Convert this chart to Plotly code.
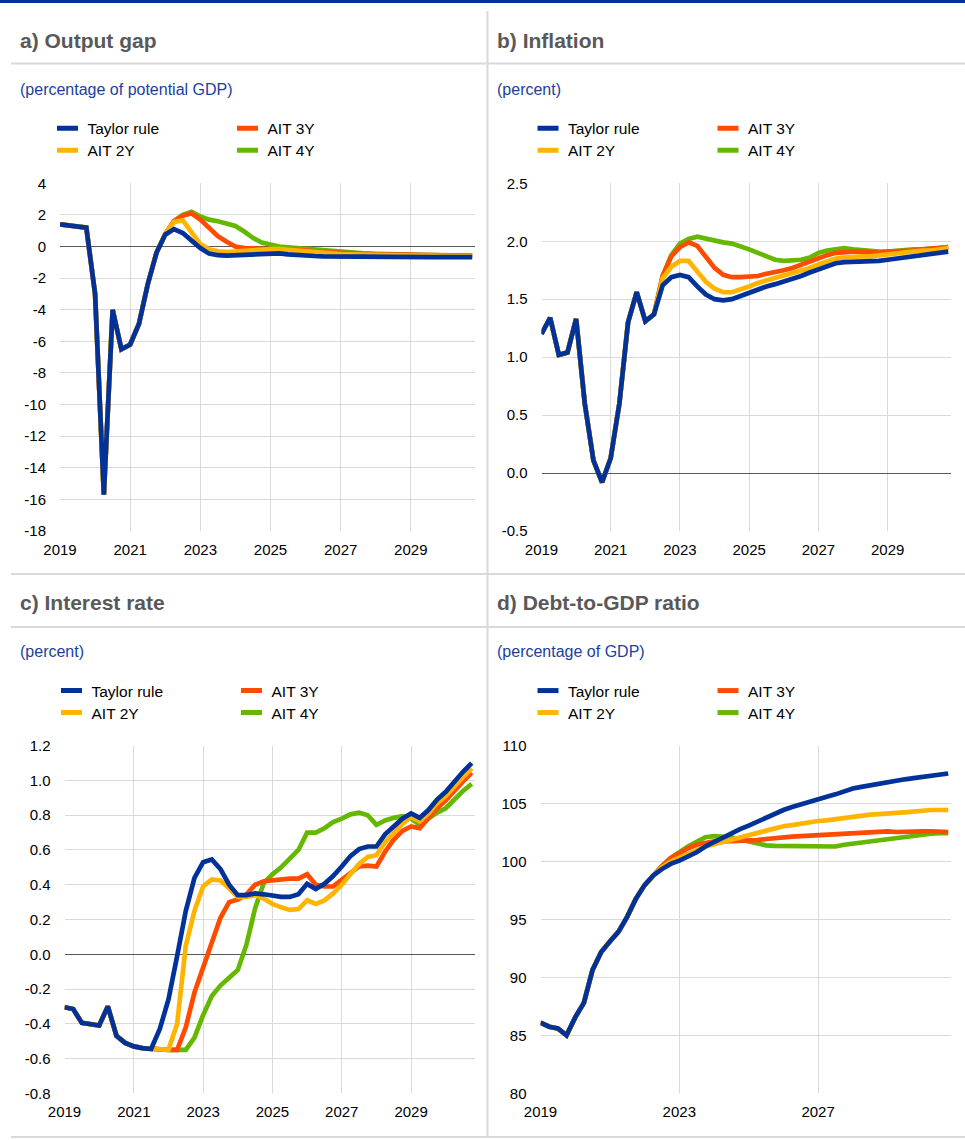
"""
Output gap, inflation, interest rate and debt under Taylor rule vs average inflation targeting
"""

import plotly.graph_objects as go

W, H = 965, 1140
FONT = "Liberation Sans, Arial, sans-serif"

# quarterly observations 2019Q1 - 2030Q4
quarters = [f"{2019 + q // 4}Q{q % 4 + 1}" for q in range(48)]

SERIES = ["Taylor rule", "AIT 2Y", "AIT 3Y", "AIT 4Y"]
COLORS = {
    "Taylor rule": "#003299",
    "AIT 2Y": "#ffb400",
    "AIT 3Y": "#ff4b00",
    "AIT 4Y": "#65b800",
}

# a) Output gap (percentage of potential GDP)
gap_common = [1.4, 1.35, 1.32, 1.2, -3.0, -15.7, -4.0, -6.5, -6.2, -4.9, -2.4, -0.4]
gap_taylor = gap_common + [0.75, 1.1, 0.85, 0.4, -0.1, -0.45, -0.55, -0.57, -0.55, -0.5, -0.47, -0.44,
                           -0.42, -0.44, -0.5, -0.55, -0.58, -0.6, -0.62, -0.63, -0.64, -0.65, -0.65, -0.66,
                           -0.66, -0.66, -0.67, -0.67, -0.67, -0.67, -0.67, -0.67, -0.67, -0.67, -0.67, -0.67]
gap_ait2y = gap_common + [0.8, 1.55, 1.65, 0.95, 0.15, -0.17, -0.3, -0.35, -0.3, -0.25, -0.2, -0.18,
                          -0.16, -0.17, -0.22, -0.28, -0.33, -0.38, -0.42, -0.45, -0.48, -0.5, -0.52, -0.53,
                          -0.54, -0.55, -0.56, -0.57, -0.58, -0.58, -0.59, -0.59, -0.6, -0.6, -0.6, -0.6]
gap_ait3y = gap_common + [0.8, 1.6, 1.95, 2.1, 1.7, 1.15, 0.65, 0.3, 0.0, -0.1, -0.12, -0.12,
                          -0.1, -0.12, -0.15, -0.2, -0.25, -0.3, -0.34, -0.38, -0.41, -0.44, -0.46, -0.48,
                          -0.5, -0.51, -0.52, -0.53, -0.54, -0.55, -0.56, -0.57, -0.57, -0.58, -0.58, -0.58]
gap_ait4y = gap_common + [0.8, 1.6, 2.0, 2.2, 1.9, 1.7, 1.6, 1.45, 1.3, 0.95, 0.55, 0.25,
                          0.1, 0.0, -0.05, -0.1, -0.15, -0.2, -0.25, -0.3, -0.34, -0.38, -0.41, -0.44,
                          -0.46, -0.48, -0.5, -0.51, -0.52, -0.53, -0.54, -0.55, -0.56, -0.57, -0.57, -0.58]

# b) Inflation (percent)
infl_common = [1.2, 1.34, 1.02, 1.04, 1.33, 0.6, 0.11, -0.08, 0.13, 0.6, 1.3, 1.56, 1.31, 1.37]
infl_taylor = infl_common + [1.62, 1.69, 1.71, 1.69, 1.61, 1.54, 1.5, 1.49, 1.5, 1.53, 1.56, 1.58,
                             1.61, 1.63, 1.65, 1.67, 1.7, 1.73, 1.76, 1.79, 1.81, 1.82, 1.82, 1.82,
                             1.82, 1.83, 1.84, 1.85, 1.86, 1.87, 1.88, 1.89, 1.9, 1.91]
infl_ait2y = infl_common + [1.68, 1.78, 1.83, 1.83, 1.74, 1.65, 1.59, 1.56, 1.56, 1.58, 1.61, 1.64,
                            1.66, 1.68, 1.7, 1.72, 1.74, 1.77, 1.8, 1.83, 1.85, 1.86, 1.87, 1.87,
                            1.87, 1.88, 1.88, 1.89, 1.9, 1.91, 1.92, 1.92, 1.93, 1.94]
infl_ait3y = infl_common + [1.7, 1.87, 1.95, 1.99, 1.96, 1.86, 1.77, 1.71, 1.69, 1.69, 1.69, 1.7,
                            1.72, 1.73, 1.75, 1.77, 1.8, 1.83, 1.86, 1.88, 1.9, 1.91, 1.91, 1.91,
                            1.9, 1.9, 1.91, 1.91, 1.92, 1.92, 1.93, 1.93, 1.94, 1.95]
infl_ait4y = infl_common + [1.7, 1.88, 1.98, 2.02, 2.04, 2.02, 2.0, 1.99, 1.98, 1.96, 1.93, 1.9,
                            1.87, 1.84, 1.83, 1.83, 1.84, 1.86, 1.9, 1.92, 1.93, 1.94, 1.93, 1.92,
                            1.91, 1.91, 1.91, 1.92, 1.92, 1.93, 1.93, 1.94, 1.94, 1.95]

# c) Interest rate (percent)
rate_common = [-0.305, -0.315, -0.395, -0.405, -0.41, -0.3, -0.47, -0.51, -0.53, -0.54, -0.545]
rate_taylor = rate_common + [-0.43, -0.26, -0.01, 0.25, 0.44, 0.53, 0.545, 0.49, 0.4, 0.34, 0.34, 0.35,
                             0.345, 0.335, 0.33, 0.33, 0.345, 0.405, 0.375, 0.405, 0.45, 0.505, 0.565, 0.605,
                             0.62, 0.62, 0.69, 0.735, 0.78, 0.81, 0.785, 0.83, 0.89, 0.935, 0.995, 1.05, 1.1]
rate_ait2y = rate_common + [-0.55, -0.55, -0.4, 0.05, 0.25, 0.39, 0.43, 0.425, 0.38, 0.33, 0.33, 0.34,
                            0.32, 0.29, 0.27, 0.255, 0.26, 0.31, 0.29, 0.31, 0.35, 0.4, 0.46, 0.52,
                            0.56, 0.57, 0.645, 0.7, 0.75, 0.79, 0.765, 0.81, 0.87, 0.91, 0.97, 1.02, 1.07]
rate_ait3y = rate_common + [-0.55, -0.55, -0.55, -0.42, -0.22, -0.08, 0.07, 0.21, 0.3, 0.315, 0.345, 0.4,
                            0.42, 0.425, 0.435, 0.435, 0.435, 0.46, 0.4, 0.39, 0.39, 0.43, 0.47, 0.505,
                            0.51, 0.505, 0.59, 0.66, 0.71, 0.735, 0.725, 0.785, 0.84, 0.885, 0.945, 0.995, 1.045]
rate_ait4y = rate_common + [-0.55, -0.55, -0.55, -0.55, -0.48, -0.35, -0.24, -0.18, -0.135, -0.09, 0.055, 0.265,
                            0.41, 0.46, 0.5, 0.55, 0.6, 0.7, 0.7, 0.725, 0.76, 0.78, 0.805, 0.815,
                            0.8, 0.745, 0.77, 0.785, 0.795, 0.78, 0.745, 0.78, 0.815, 0.84, 0.89, 0.94, 0.98]

# d) Debt-to-GDP ratio (percentage of GDP)
debt_common = [86.1, 85.75, 85.6, 85.0, 86.55, 87.8, 90.65, 92.2, 93.1, 93.95, 95.25, 96.8, 97.97, 98.8]
debt_taylor = debt_common + [99.35, 99.8, 100.08, 100.4, 100.8, 101.3, 101.7, 102.1, 102.5, 102.8, 103.1, 103.45,
                             103.8, 104.15, 104.45, 104.7, 104.95, 105.15, 105.35, 105.6, 105.8, 106.1, 106.3, 106.45,
                             106.6, 106.75, 106.9, 107.0, 107.1, 107.2, 107.3, 107.4, 107.5, 107.6]
debt_ait2y = debt_common + [99.5, 100.0, 100.35, 100.7, 101.05, 101.3, 101.5, 101.7, 101.9, 102.15, 102.3, 102.45,
                            102.65, 102.85, 103.05, 103.15, 103.3, 103.4, 103.5, 103.55, 103.65, 103.8, 103.95, 104.0,
                            104.05, 104.1, 104.2, 104.2, 104.25, 104.35, 104.4, 104.45, 104.45, 104.45]
debt_ait3y = debt_common + [99.6, 100.3, 100.75, 101.15, 101.45, 101.65, 101.75, 101.75, 101.75, 101.8, 101.85, 101.85,
                            101.95, 102.05, 102.15, 102.15, 102.2, 102.25, 102.25, 102.3, 102.3, 102.4, 102.45, 102.5,
                            102.5, 102.55, 102.6, 102.55, 102.6, 102.6, 102.6, 102.6, 102.6, 102.55]
debt_ait4y = debt_common + [99.6, 100.3, 100.85, 101.3, 101.7, 102.1, 102.2, 102.2, 102.1, 101.9, 101.7, 101.5,
                            101.4, 101.35, 101.35, 101.3, 101.3, 101.25, 101.25, 101.25, 101.3, 101.45, 101.55, 101.65,
                            101.7, 101.85, 102.0, 102.05, 102.15, 102.25, 102.3, 102.4, 102.45, 102.45]

ticks_2y = [2019, 2021, 2023, 2025, 2027, 2029]
ticks_4y = [2019, 2023, 2027]
gap_ticks = [-18, -16, -14, -12, -10, -8, -6, -4, -2, 0, 2, 4]
infl_ticks = [-0.5, 0.0, 0.5, 1.0, 1.5, 2.0, 2.5]
rate_ticks = [-0.8, -0.6, -0.4, -0.2, 0.0, 0.2, 0.4, 0.6, 0.8, 1.0, 1.2]
debt_ticks = [80, 85, 90, 95, 100, 105, 110]


def px_x(x):
    return x / W


def px_y(y):
    return 1 - y / H


def quarter_pos(q):
    # "2021Q3" -> 2021.5
    return int(q[:4]) + (int(q[-1]) - 1) / 4


x_pos = [quarter_pos(q) for q in quarters]

# panel layout (pixel boxes)
panels = [
    dict(title="a) Output gap", sub="(percentage of potential GDP)",
         data={"Taylor rule": gap_taylor, "AIT 2Y": gap_ait2y, "AIT 3Y": gap_ait3y, "AIT 4Y": gap_ait4y},
         yticks=gap_ticks, fmt="{:d}", xticks=ticks_2y,
         box=(60, 475, 183.3, 531), head=(18, 40, 89), legx=47.5, legy=(128.7, 150.7)),
    dict(title="b) Inflation", sub="(percent)",
         data={"Taylor rule": infl_taylor, "AIT 2Y": infl_ait2y, "AIT 3Y": infl_ait3y, "AIT 4Y": infl_ait4y},
         yticks=infl_ticks, fmt="{:.1f}", xticks=ticks_2y,
         box=(541.5, 951, 183.3, 531), head=(495, 40, 89), legx=528, legy=(128.7, 150.7)),
    dict(title="c) Interest rate", sub="(percent)",
         data={"Taylor rule": rate_taylor, "AIT 2Y": rate_ait2y, "AIT 3Y": rate_ait3y, "AIT 4Y": rate_ait4y},
         yticks=rate_ticks, fmt="{:.1f}", xticks=ticks_2y,
         box=(64.5, 474.5, 745.7, 1093.3), head=(18, 602, 651), legx=51.5, legy=(691, 713)),
    dict(title="d) Debt-to-GDP ratio", sub="(percentage of GDP)",
         data={"Taylor rule": debt_taylor, "AIT 2Y": debt_ait2y, "AIT 3Y": debt_ait3y, "AIT 4Y": debt_ait4y},
         yticks=debt_ticks, fmt="{:d}", xticks=ticks_4y,
         box=(540.5, 951, 745.7, 1093.3), head=(495, 602, 651), legx=528, legy=(691, 713)),
]

fig = go.Figure()
annotations = []
layout = {}

for i, p in enumerate(panels, start=1):
    xa = "x" if i == 1 else f"x{i}"
    ya = "y" if i == 1 else f"y{i}"
    leg1 = "legend" if i == 1 else f"legend{2 * i - 1}"
    leg2 = f"legend{2 * i}"

    # lines: Taylor rule drawn last so it sits on top
    for name in ["AIT 4Y", "AIT 3Y", "AIT 2Y", "Taylor rule"]:
        fig.add_trace(go.Scatter(
            x=x_pos, y=p["data"][name], mode="lines", name=name,
            line=dict(color=COLORS[name], width=4.7),
            xaxis=xa, yaxis=ya, showlegend=False, hoverinfo="skip",
        ))

    # legend entries (two rows, two columns)
    for name, leg in [("Taylor rule", leg1), ("AIT 3Y", leg1), ("AIT 2Y", leg2), ("AIT 4Y", leg2)]:
        fig.add_trace(go.Scatter(
            x=[None], y=[None], mode="markers", name=name,
            marker=dict(symbol="line-ew", size=15, color=COLORS[name],
                        line=dict(color=COLORS[name], width=5)),
            xaxis=xa, yaxis=ya, legend=leg, showlegend=True,
        ))

    for leg, ly in zip([leg1, leg2], p["legy"]):
        layout[leg] = dict(
            orientation="h", x=px_x(p["legx"]), xanchor="left", y=px_y(ly), yanchor="middle",
            entrywidth=135, entrywidthmode="pixels", bgcolor="rgba(0,0,0,0)",
            font=dict(family=FONT, size=15.5, color="#000000"), itemclick=False, itemdoubleclick=False,
        )

    yt = p["yticks"]
    x0, x1, y0, y1 = p["box"]
    layout["xaxis" if i == 1 else f"xaxis{i}"] = dict(
        domain=[px_x(x0), px_x(x1)], range=[2019, 2030.83], anchor=ya, automargin=False,
        tickvals=p["xticks"], ticktext=[str(t) for t in p["xticks"]],
        showgrid=True, gridcolor="#d9d9d9", gridwidth=1, zeroline=False, showline=False,
        ticks="", ticklabelstandoff=8, tickfont=dict(family=FONT, size=15, color="#000000"),
    )
    layout["yaxis" if i == 1 else f"yaxis{i}"] = dict(
        domain=[px_y(y1), px_y(y0)], range=[yt[0], yt[-1]], anchor=xa, automargin=False,
        tickvals=yt, ticktext=[p["fmt"].format(v) for v in yt],
        showgrid=True, gridcolor="#d9d9d9", gridwidth=1, showline=False,
        zeroline=True, zerolinecolor="#595959", zerolinewidth=1,
        ticks="", ticklabelstandoff=13, tickfont=dict(family=FONT, size=15, color="#000000"),
    )

    hx, hy_title, hy_sub = p["head"]
    annotations.append(dict(
        text=p["title"], x=px_x(hx), y=px_y(hy_title), xref="paper", yref="paper",
        xanchor="left", yanchor="middle", showarrow=False,
        font=dict(family=FONT, size=21, color="#595959", weight="bold"),
    ))
    annotations.append(dict(
        text=p["sub"], x=px_x(hx), y=px_y(hy_sub), xref="paper", yref="paper",
        xanchor="left", yanchor="middle", showarrow=False,
        font=dict(family=FONT, size=16, color="#1a3fa0"),
    ))

# frame: blue top bar and grey separators
grey = dict(color="#d9d9d9", width=2)
shapes = [
    dict(type="rect", xref="paper", yref="paper", x0=0, x1=1, y0=px_y(3), y1=1,
         fillcolor="#003299", line=dict(width=0)),
    dict(type="line", xref="paper", yref="paper", x0=px_x(487.5), x1=px_x(487.5),
         y0=px_y(11), y1=px_y(1137), line=grey),
]
for y in [63.5, 574, 627, 1137]:
    shapes.append(dict(type="line", xref="paper", yref="paper", x0=px_x(11), x1=1,
                       y0=px_y(y), y1=px_y(y), line=grey))

fig.update_layout(
    width=W, height=H,
    margin=dict(l=0, r=0, t=0, b=0, autoexpand=False),
    paper_bgcolor="white", plot_bgcolor="white",
    font=dict(family=FONT),
    annotations=annotations, shapes=shapes,
    **layout,
)

# page without body margin so the figure fills the window exactly
fig.write_html(
    "out.html",
    config={"displayModeBar": False},
    post_script="document.body.style.margin='0';document.body.style.overflow='hidden';",
)
